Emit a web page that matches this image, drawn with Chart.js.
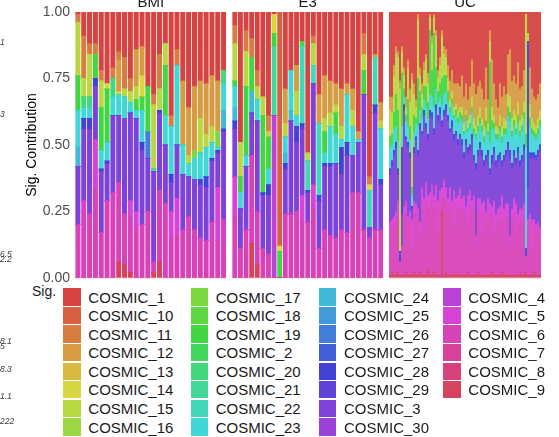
<!DOCTYPE html>
<html>
<head>
<meta charset="utf-8">
<script src="https://cdn.jsdelivr.net/npm/chart.js@4.4.1/dist/chart.umd.min.js"></script>
<style>
  html, body { margin: 0; padding: 0; background: #fff; width: 559px; height: 437px; overflow: hidden;
    font-family: "Liberation Sans", Arial, sans-serif; }
  .panel { position: absolute; top: 0; height: 282px; }
  .key { position: absolute; width: 17.3px; height: 17.3px; }
  .lab { position: absolute; font-size: 15px; line-height: 17px; color: #1a1a1a; white-space: nowrap; }
  .frag { position: absolute; left: 0; font-size: 8.5px; line-height: 10px; font-style: italic; color: #3a3a3a; white-space: nowrap; }
  #sigTitle { position: absolute; left: 32px; top: 283px; font-size: 14px; line-height: 16px; color: #1a1a1a; }
</style>
</head>
<body>
<div class="panel" style="left:0;width:230px"><canvas id="cBMI"></canvas></div>
<div class="panel" style="left:229px;width:157px"><canvas id="cE3"></canvas></div>
<div class="panel" style="left:386px;width:173px"><canvas id="cUC"></canvas></div>
<div id="sigTitle">Sig.</div>
<div id="legend"></div>
<div id="frags"></div>

<script>
// Signature levels, in factor order (first level sits on top of each stack)
const signatures = [
  'COSMIC_1','COSMIC_10','COSMIC_11','COSMIC_12','COSMIC_13','COSMIC_14','COSMIC_15','COSMIC_16',
  'COSMIC_17','COSMIC_18','COSMIC_19','COSMIC_2','COSMIC_20','COSMIC_21','COSMIC_22','COSMIC_23',
  'COSMIC_24','COSMIC_25','COSMIC_26','COSMIC_27','COSMIC_28','COSMIC_29','COSMIC_3','COSMIC_30',
  'COSMIC_4','COSMIC_5','COSMIC_6','COSMIC_7','COSMIC_8','COSMIC_9'
];
const panelNames = ['BMI', 'E3', 'UC'];
const yTicks = [0, 0.25, 0.5, 0.75, 1];

// ---- BMI cohort (26 samples) ----
const bmiSig1  = [.01,.09,.12,.12,.22,.27,.21,.15,.17,.25,.14,.13,.28,.31,.16,.12,.39,.14,.26,.36,.28,.26,.27,.24,.26,.22];
const bmiSig11 = [.03,.16,.04,.04,.04,0,.04,.03,.12,.05,0,0,0,.04,.13,0,.04,.06,0,0,0,0,0,0,0,0];
const bmiSig12 = [0,0,0,0,0,0,0,.12,0,0,.14,.11,0,0,0,0,0,0,.24,.18,.24,.14,.19,.19,.19,0];
const bmiSig14 = [0,0,0,0,0,.02,0,.01,0,0,0,.08,0,0,0,0,0,0,0,0,0,0,0,0,0,0];
const bmiSig15 = [.20,.07,.16,0,.10,0,0,0,.03,.04,.05,0,0,.24,.08,.08,0,0,0,.03,0,.13,.05,.06,0,0];
const bmiSig17 = [0,0,0,0,0,0,0,0,0,0,0,0,0,0,0,0,0,0,0,0,.03,0,0,0,.06,0];
const bmiSig19 = [.13,0,0,.09,.16,.20,0,0,0,0,.04,.05,.17,0,0,.19,0,0,0,0,0,0,0,0,0,0];
const bmiSig20 = [0,.04,.04,0,0,0,.07,0,0,0,0,0,0,0,0,0,0,0,0,0,0,0,0,0,0,.05];
const bmiSig21 = [0,0,0,0,0,0,0,0,0,0,0,0,0,.01,0,0,0,0,0,0,0,0,0,0,0,0];
const bmiSig23 = [.14,.04,.04,0,.07,.07,.07,.08,.08,.04,.03,.12,0,0,0,.11,.18,.30,.11,.05,.08,.10,.11,.06,.01,.10];
const bmiSig24 = [.07,0,0,0,0,0,0,0,0,0,0,0,0,0,0,0,0,0,0,0,0,0,0,0,0,.07];
const bmiSig26 = [0,0,0,0,0,0,0,0,0,0,0,0,.10,0,0,0,0,0,0,0,0,0,0,0,0,0];
const bmiSig28 = [0,.04,.04,.03,.01,.01,0,0,0,0,0,.03,0,0,.01,0,.03,0,0,0,0,.02,.04,.01,.01,.01];
const bmiSig3  = [.22,.27,.32,.20,.23,.14,.29,.25,.36,.33,.35,.28,.20,.34,.29,.22,.11,.20,.21,.15,.19,.20,.20,.23,.13,.33];
const bmiSig5  = [0,0,0,.18,0,0,0,0,0,.06,.06,0,0,0,0,0,.10,.14,0,0,0,0,0,0,.20,0];
const bmiSig6  = [.20,.29,.24,.34,.17,.29,.32,.30,.19,.21,.19,.20,.25,.04,.27,.28,.15,.16,.18,.23,.18,.15,.14,.21,.14,.22];
const bmiSig9  = [0,0,0,0,0,0,0,.06,.05,.02,0,0,0,.02,.06,0,0,0,0,0,0,0,0,0,0,0];

// ---- E3 cohort (27 samples) ----
const e3Sig1  = [.05,.49,.07,.10,.22,.32,.39,.01,0,.29,.22,.20,.11,.53,.09,.31,.24,.26,.27,.29,.27,.29,.45,.08,.62,.16,.34];
const e3Sig10 = [0,0,0,0,0,0,0,0,.88,0,0,0,0,0,0,0,0,0,0,0,0,0,0,0,0,0,0];
const e3Sig11 = [.07,0,.08,.07,.06,0,.06,0,0,0,0,0,0,0,.03,0,0,0,0,0,0,0,0,.08,.03,0,0];
const e3Sig12 = [0,0,0,0,0,0,0,0,0,.13,0,.10,0,0,0,.11,.16,.12,.08,.14,.04,.08,.03,0,0,.01,.07];
const e3Sig14 = [0,0,0,0,0,0,0,.07,.02,0,0,0,0,0,0,0,0,0,0,0,0,0,0,0,.02,0,0];
const e3Sig15 = [.14,.13,.13,0,.05,.07,.02,0,0,.05,0,.09,0,.03,.08,0,.05,.05,.03,.05,0,.06,0,.06,0,0,.03];
const e3Sig19 = [.02,.06,.26,.13,0,.29,.12,.05,.10,0,0,0,.02,0,0,0,.08,0,.08,0,0,0,0,.09,0,0,0];
const e3Sig21 = [0,0,0,0,0,0,0,.26,0,0,0,0,0,0,0,0,0,0,0,0,0,0,0,0,0,0,0];
const e3Sig22 = [0,0,0,0,0,0,0,0,0,0,0,0,.29,.11,.07,.27,0,0,0,0,0,0,0,0,.14,.18,0];
const e3Sig23 = [.08,.06,.04,0,.08,0,.06,0,0,.06,.15,.04,0,0,0,0,.04,.14,.11,.03,.18,.11,.01,0,0,0,.19];
const e3Sig24 = [.05,0,0,.08,0,0,0,0,0,.04,.04,0,0,0,0,0,0,0,0,0,0,0,0,0,0,0,0];
const e3Sig28 = [.03,0,0,0,0,.01,.04,0,0,.02,0,.06,.02,.01,0,.02,.01,.01,0,.10,.05,0,0,0,0,.03,.02];
const e3Sig3  = [.18,.15,.24,.16,.34,.20,.22,0,0,.17,.35,.26,.25,.11,.38,.18,.24,.26,.28,.21,.29,.14,.19,.51,.04,.44,.17];
const e3Sig4  = [0,0,0,0,0,0,0,.61,0,0,0,0,0,0,0,0,0,0,0,0,0,0,0,0,0,0,0];
const e3Sig5  = [.15,0,0,0,0,0,0,0,0,0,0,0,.10,0,.09,0,0,0,0,0,0,0,0,0,0,0,0];
const e3Sig6  = [.23,.11,.18,.33,.20,.11,.09,0,0,.24,.24,.25,.21,.21,.26,.11,.18,.16,.15,.18,.17,.32,.32,.18,.15,.18,.18];
const e3Sig9  = [0,0,0,.13,.05,0,0,0,0,0,0,0,0,0,0,0,0,0,0,0,0,0,0,0,0,0,0];

// ---- UC cohort (76 samples) ----
const ucSig1 = [
  .32,.32,.20,.13,.15,.26,.13,.21,.32,.18, .29,.23,.27,.33,.01,.21,.27,.19,.16,.23,
  .01,.09,.01,.07,.22,.17,.07,.13,.14,.20, .26,.22,.27,.27,.27,.28,.24,.32,.27,.33,
  .28,.18,.27,.31,.28,.26,.29,.33,.21,.33, .07,.18,.27,.33,.36,.27,.32,.28,.31,.16,
  .14,.26,.24,.27,.19,.29,.28,.22,.01,.08, .21,.29,.32,.33,.31,.27];
const ucSig12 = [
  .05,.06,.04,.03,.02,.03,.02,.03,.04,.03, .05,.03,.04,.03,.02,.03,.04,.03,.02,.04,
  .01,.03,.01,.02,.03,.03,.02,.03,.03,.05, .07,.08,.09,.08,.10,.08,.12,.10,.10,.08,
  .11,.14,.13,.12,.11,.10,.11,.10,.15,.09, .04,.18,.12,.10,.08,.12,.11,.12,.10,.15,
  .18,.14,.13,.12,.15,.12,.11,.12,0,0, .14,.11,.10,.10,.09,.10];
const ucSig15 = [
  .10,.08,.14,.15,.20,.61,.08,.05,.03,.12, .09,.40,.08,.04,.22,.06,.05,.06,.10,.07,
  .05,.10,.06,.12,.05,.07,.16,.08,.07,.05, .03,.03,.03,.02,.03,.02,.03,.03,.02,.03,
  .03,.04,.04,.03,.04,.04,.03,.04,.05,.03, .08,.05,.03,.03,.02,.04,.04,.04,.03,.05,
  .06,.05,.04,.05,.05,.04,.04,.04,.45,.03, .05,.04,.03,.03,.04,.04];
const ucSig19 = [
  .04,.04,.06,.12,.12,0,.20,.03,.02,.10, .05,.03,.06,.02,.18,.07,.04,.05,.08,.06,
  .24,.10,.28,.08,.04,.05,.10,.07,.06,.04, .02,.02,.01,.02,.02,.02,.02,.01,.02,.01,
  .02,.02,.02,.02,.02,.02,.02,.02,.03,.01, .30,.03,.02,.02,.02,.02,.02,.02,.02,.03,
  .03,.02,.02,.02,.03,.02,.02,.02,.05,0, .03,.02,.02,.02,.02,.02];
const ucSig23 = [
  .08,.06,.08,.06,.10,0,.08,.03,.06,.06, .05,.04,.06,.05,.09,.05,.05,.04,.06,.06,
  .06,.06,.08,.06,.05,.04,.06,.06,.05,.05, .06,.06,.06,.06,.06,.06,.07,.07,.07,.06,
  .06,.08,.08,.09,.07,.07,.07,.07,.10,.06, .10,.10,.07,.08,.06,.08,.07,.08,.06,.10,
  .11,.10,.09,.09,.09,.09,.09,.10,.38,0, .10,.07,.06,.06,.06,.07];
const ucSig28 = [
  .02,.02,.02,.02,.02,.04,.25,.02,.01,.02, .02,.01,.02,.01,.02,.02,.01,.02,.02,.02,
  .02,.02,.02,.02,.02,.02,.02,.02,.02,.02, .01,.02,.02,.01,.02,.01,.02,.02,.02,.02,
  .02,.02,.02,.02,.02,.02,.02,.02,.02,.02, .02,.03,.02,.02,.02,.02,.02,.02,.02,.02,
  .03,.02,.02,.02,.02,.02,.02,.02,.03,.55, .02,.02,.02,.02,.02,.02];
const ucSig3 = [
  .18,.20,.23,.24,.10,0,.12,.36,.23,.26, .20,.04,.18,.24,.20,.35,.20,.31,.20,.21,
  .29,.25,.23,.28,.30,.29,.23,.24,.29,.29, .21,.28,.19,.24,.19,.19,.20,.14,.23,.16,
  .15,.23,.13,.25,.16,.19,.18,.13,.19,.16, .11,.16,.18,.18,.18,.18,.11,.18,.18,.21,
  .29,.15,.16,.15,.23,.16,.18,.20,0,.12, .21,.23,.23,.24,.25,.29];
const ucSig5 = [
  .03,.02,.05,.04,.06,0,.02,.04,.05,.03, .04,.11,.05,.04,.04,.06,.05,.12,.07,.05,
  .05,.06,.05,.06,.12,.05,.03,.07,.05,.05, .06,.04,.14,.05,.05,.06,.05,.05,.04,.13,
  .06,.04,.05,.04,.05,.05,.12,.05,.04,.05, .04,.04,.13,.04,.04,.05,.06,.12,.05,.05,
  .04,.04,.05,.13,.04,.04,.05,.05,0,.04, .04,.12,.03,.03,.03,.03];
const ucSig6 = [
  .17,.18,.17,.20,.21,.05,.09,.22,.22,.19, .20,.10,.22,.23,.21,.13,.28,.17,.28,.23,
  .26,.28,.24,.28,.16,.27,.06,.29,.27,.24, .27,.24,.18,.23,.25,.27,.24,.25,.22,.16,
  .26,.24,.25,.11,.23,.24,.15,.23,.20,.24, .23,.21,.15,.19,.21,.21,.23,.13,.22,.22,
  .11,.21,.24,.14,.19,.20,.20,.22,.06,.17, .19,.09,.17,.16,.17,.15];
const ucSig9 = [
  .01,.02,.01,.01,.02,.01,.01,.01,.02,.01, .01,.01,.02,.01,.01,.02,.01,.01,.01,.03,
  .01,.01,.02,.01,.01,.01,.25,.01,.02,.01, .01,.01,.01,.02,.01,.01,.01,.01,.01,.02,
  .01,.01,.01,.01,.02,.01,.01,.01,.01,.01, .01,.02,.01,.01,.01,.01,.02,.01,.01,.01,
  .01,.01,.01,.01,.01,.02,.01,.01,.02,.01, .01,.01,.02,.01,.01,.01];

// Tables keyed by signature name, assembled from the arrays above
const bmiTable = {
  COSMIC_1: bmiSig1, COSMIC_11: bmiSig11, COSMIC_12: bmiSig12, COSMIC_14: bmiSig14, COSMIC_15: bmiSig15,
  COSMIC_17: bmiSig17, COSMIC_19: bmiSig19, COSMIC_20: bmiSig20, COSMIC_21: bmiSig21, COSMIC_23: bmiSig23,
  COSMIC_24: bmiSig24, COSMIC_26: bmiSig26, COSMIC_28: bmiSig28, COSMIC_3: bmiSig3, COSMIC_5: bmiSig5,
  COSMIC_6: bmiSig6, COSMIC_9: bmiSig9
};
const e3Table = {
  COSMIC_1: e3Sig1, COSMIC_10: e3Sig10, COSMIC_11: e3Sig11, COSMIC_12: e3Sig12, COSMIC_14: e3Sig14,
  COSMIC_15: e3Sig15, COSMIC_19: e3Sig19, COSMIC_21: e3Sig21, COSMIC_22: e3Sig22, COSMIC_23: e3Sig23,
  COSMIC_24: e3Sig24, COSMIC_28: e3Sig28, COSMIC_3: e3Sig3, COSMIC_4: e3Sig4, COSMIC_5: e3Sig5,
  COSMIC_6: e3Sig6, COSMIC_9: e3Sig9
};
const ucTable = {
  COSMIC_1: ucSig1, COSMIC_12: ucSig12, COSMIC_15: ucSig15, COSMIC_19: ucSig19, COSMIC_23: ucSig23,
  COSMIC_28: ucSig28, COSMIC_3: ucSig3, COSMIC_5: ucSig5, COSMIC_6: ucSig6, COSMIC_9: ucSig9
};

// Rainbow fill scale, one hue step per signature level
const sigColors = signatures.map((_, i) => `hsl(${i * 12}, 65%, 55%)`);

const FONT = '"Liberation Sans", Arial, sans-serif';
Chart.defaults.font.family = FONT;

const isMajor = v => yTicks.some(t => Math.abs(t - v) < 1e-6);

// Facet strip label drawn above each panel
const stripTitle = {
  id: 'stripTitle',
  afterDraw(chart, args, opts) {
    const { ctx, chartArea } = chart;
    ctx.save();
    ctx.font = `15px ${FONT}`;
    ctx.fillStyle = '#1a1a1a';
    ctx.textAlign = 'center';
    ctx.textBaseline = 'alphabetic';
    ctx.fillText(opts.text, (chartArea.left + chartArea.right) / 2, 7);
    ctx.restore();
  }
};

function makePanel(canvasId, name, table, cfg) {
  const n = table.COSMIC_1.length;
  const labels = Array.from({ length: n }, (_, i) => String(i + 1));
  // Bottom of the stack is the last factor level, so feed datasets in reverse
  const datasets = signatures.slice().reverse().map(sig => ({
    label: sig,
    data: table[sig] || new Array(n).fill(0),
    backgroundColor: sigColors[signatures.indexOf(sig)],
    borderWidth: 0,
    inflateAmount: 0.3,
    barPercentage: cfg.barPct,
    categoryPercentage: 1
  }));

  return new Chart(document.getElementById(canvasId), {
    type: 'bar',
    data: { labels, datasets },
    plugins: [stripTitle],
    options: {
      responsive: true,
      maintainAspectRatio: false,
      animation: false,
      events: [],
      layout: { padding: cfg.padding },
      plugins: {
        legend: { display: false },
        tooltip: { enabled: false },
        stripTitle: { text: name }
      },
      scales: {
        x: { stacked: true, display: false },
        y: {
          stacked: true,
          min: 0,
          max: 1,
          afterFit: s => {
            s.width = cfg.axisWidth;
            s.paddingTop = 0;
            s.paddingBottom = 0;
          },
          border: { display: false },
          grid: {
            drawTicks: false,
            color: c => isMajor(c.tick.value) ? '#EBEBEB' : '#F3F3F3',
            lineWidth: c => isMajor(c.tick.value) ? 1 : 0.6
          },
          ticks: {
            display: cfg.showAxis,
            stepSize: 0.125,
            autoSkip: false,
            padding: 5,
            color: '#4D4D4D',
            font: { size: 14 },
            callback: v => isMajor(v) ? v.toFixed(2) : ''
          },
          title: {
            display: cfg.showAxis,
            text: 'Sig. Contribution',
            color: '#000',
            font: { size: 14 },
            padding: { top: 24, bottom: 0 }
          }
        }
      }
    }
  });
}

makePanel('cBMI', panelNames[0], bmiTable, {
  barPct: 0.76, axisWidth: 75, showAxis: true,
  padding: { left: 0, right: 3.5, top: 12, bottom: 4 }
});
makePanel('cE3', panelNames[1], e3Table, {
  barPct: 0.76, axisWidth: 0, showAxis: false,
  padding: { left: 3, right: 2.5, top: 12, bottom: 4 }
});
makePanel('cUC', panelNames[2], ucTable, {
  barPct: 0.64, axisWidth: 0, showAxis: false,
  padding: { left: 3, right: 18, top: 12, bottom: 4 }
});

// Legend: four columns of eight, filled column by column
const legend = document.getElementById('legend');
const colX = [63.3, 190.7, 319, 443.3];
const rowTop = 288.3, rowStep = 18.57;
signatures.forEach((sig, i) => {
  const col = Math.floor(i / 8), row = i % 8;
  const top = rowTop + row * rowStep;
  const key = document.createElement('div');
  key.className = 'key';
  key.style.left = colX[col] + 'px';
  key.style.top = top + 'px';
  key.style.background = sigColors[i];
  legend.appendChild(key);
  const lab = document.createElement('div');
  lab.className = 'lab';
  lab.style.left = (colX[col] + 25) + 'px';
  lab.style.top = (top + 0.3) + 'px';
  lab.textContent = sig;
  legend.appendChild(lab);
});

// Edge labels from the neighbouring figure
const fragTexts = ['1', '3', '6.5', '2.2', '8.1', '5', '8.3', '1.1', '222'];
const fragY = [37, 109, 249, 254, 336, 341, 364, 391, 416];
const frags = document.getElementById('frags');
fragTexts.forEach((t, i) => {
  const d = document.createElement('div');
  d.className = 'frag';
  d.style.top = fragY[i] + 'px';
  d.textContent = t;
  frags.appendChild(d);
});
</script>
</body>
</html>
